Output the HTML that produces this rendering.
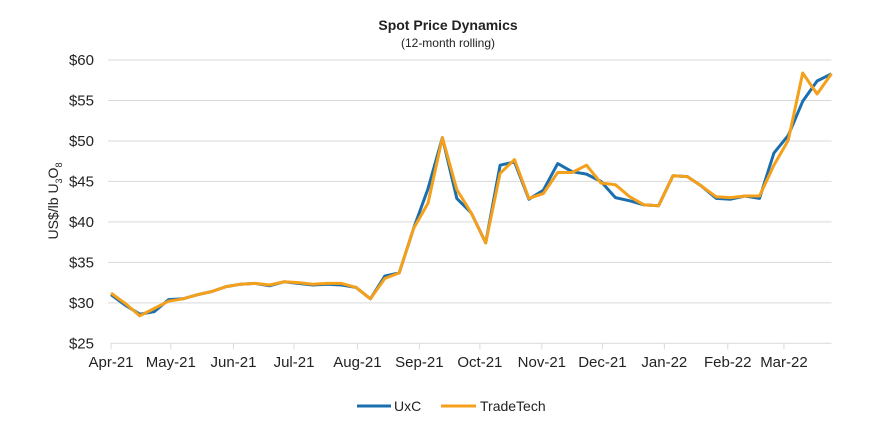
<!DOCTYPE html>
<html><head><meta charset="utf-8"><style>
body{margin:0;background:#fff;font-family:"Liberation Sans",Arial,sans-serif;}
svg text{font-family:"Liberation Sans",Arial,sans-serif;fill:#222;}
</style></head><body>
<svg id="chart" width="896" height="429" viewBox="0 0 896 429" xmlns="http://www.w3.org/2000/svg">
<text x="448" y="30" text-anchor="middle" font-size="14" font-weight="bold">Spot Price Dynamics</text>
<text x="448" y="47" text-anchor="middle" font-size="12">(12-month rolling)</text>
<g id="grid"></g>
<g id="yticks"></g>
<g id="xaxis"></g>
<text transform="translate(58,201) rotate(-90)" text-anchor="middle" font-size="14">US$/lb U<tspan font-size="9" dy="4">3</tspan><tspan dy="-4">O</tspan><tspan font-size="9" dy="4">8</tspan></text>
<g id="series"></g>
<g>
<g><line x1="357" y1="406" x2="391" y2="406" stroke="#1b6fae" stroke-width="3"/><text x="394" y="411" font-size="14">UxC</text></g>
<g><line x1="441" y1="406" x2="476" y2="406" stroke="#f5a01a" stroke-width="3"/><text x="480" y="411" font-size="14">TradeTech</text></g>
</g>
</svg>
<script>
const uxc=[31.0,29.7,28.6,28.9,30.4,30.5,31.0,31.4,32.0,32.3,32.4,32.1,32.6,32.4,32.2,32.3,32.2,31.9,30.5,33.3,33.7,39.2,44.1,50.4,42.9,41.1,37.4,47.0,47.4,42.8,43.9,47.2,46.2,45.9,45.0,43.0,42.6,42.1,42.0,45.7,45.6,44.4,42.9,42.8,43.2,42.9,48.5,50.7,54.9,57.4,58.3];
const tradetech=[31.2,29.9,28.4,29.3,30.2,30.5,31.0,31.4,32.0,32.3,32.4,32.2,32.6,32.5,32.3,32.4,32.4,31.9,30.5,33.0,33.7,39.2,42.3,50.4,44.0,41.1,37.4,46.0,47.7,42.9,43.5,46.1,46.1,47.0,44.8,44.6,43.1,42.1,42.0,45.7,45.6,44.4,43.1,43.0,43.2,43.2,47.0,50.1,58.4,55.8,58.3];
const yTicks=[25,30,35,40,45,50,55,60];
const xTickLabels=["Apr-21","May-21","Jun-21","Jul-21","Aug-21","Sep-21","Oct-21","Nov-21","Dec-21","Jan-22","Feb-22","Mar-22"];
const xTickPos=[0,4.15,8.5,12.7,17.1,21.4,25.6,29.9,34.1,38.4,42.8,46.7];
const NS="http://www.w3.org/2000/svg";
const X0=111,X1=831.5,Y60=60,Y25=343.3;
const nPts=uxc.length;
function xs(i){return X0+i*(X1-X0)/(nPts-1);}
function ys(v){return Y25-(v-25)*(Y25-Y60)/35;}
function mk(t,a,p){const e=document.createElementNS(NS,t);for(const k in a)e.setAttribute(k,a[k]);p.appendChild(e);return e;}
const grid=document.getElementById('grid'),yt=document.getElementById('yticks'),xa=document.getElementById('xaxis'),ser=document.getElementById('series');
yTicks.forEach(v=>{
 if(v>25){const l=mk('line',{x1:X0-3,x2:X1,y1:ys(v),y2:ys(v),stroke:'#d9d9d9','stroke-width':1},grid);
 
 }
 const t=mk('text',{x:94,y:ys(v)+5,'text-anchor':'end','font-size':15},yt);
 t.textContent='$'+v;
 
 
});
mk('line',{x1:X0,x2:X1,y1:Y25,y2:Y25,stroke:'#d9d9d9','stroke-width':1},xa);
xTickLabels.forEach((lab,k)=>{
 const x=xs(xTickPos[k]);
 mk('line',{x1:x,x2:x,y1:Y25,y2:Y25+6,stroke:'#d9d9d9','stroke-width':1},xa);
 const t=mk('text',{x:x,y:367,'text-anchor':'middle','font-size':15},xa);
 t.textContent=lab;
 
 
});
function line(arr,color,name){
 const d=arr.map((v,i)=>(i?'L':'M')+xs(i).toFixed(1)+','+ys(v).toFixed(1)).join('');
 const p=mk('path',{d:d,fill:'none',stroke:color,'stroke-width':3,'stroke-linejoin':'round'},ser);
 
 
}
line(uxc,'#1b6fae','uxc-line');
line(tradetech,'#f5a01a','tradetech-line');
</script>
</body></html>
